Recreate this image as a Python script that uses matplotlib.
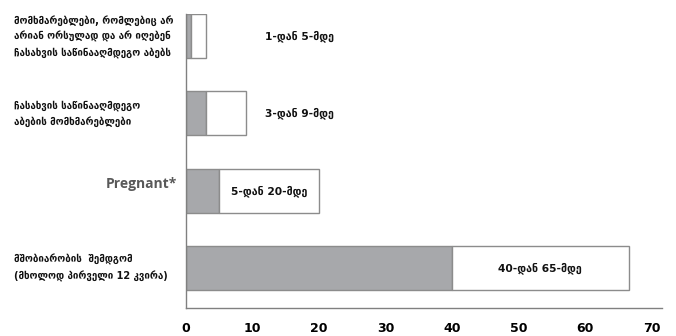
import matplotlib.pyplot as plt
import matplotlib.transforms as mtransforms

# categories, from top to bottom
categories = [
    "მომხმარებლები, რომლებიც არ\nარიან ორსულად და არ იღებენ\nჩასახვის საწინააღმდეგო აბებს",
    "ჩასახვის საწინააღმდეგო\nაბების მომხმარებლები",
    "Pregnant*",
    "მშობიარობის  შემდგომ\n(მხოლოდ პირველი 12 კვირა)",
]
low_values = [0.8, 3, 5, 40]
high_values = [3, 9, 20, 66.5]
range_labels = ["1-დან 5-მდე", "3-დან 9-მდე", "5-დან 20-მდე", "40-დან 65-მდე"]
x_ticks = [0, 10, 20, 30, 40, 50, 60, 70]

fig = plt.figure(figsize=(6.76, 3.36), dpi=100)
ax = fig.add_axes([0.275, 0.083, 0.704, 0.875])

n = len(categories)
ypos = [n - 1 - i for i in range(n)]
bar_h = 0.57
gray = "#a7a8ab"
edge = "#8c8c8c"

# gray part (lower bound) + white part (up to upper bound)
ax.barh(ypos, low_values, height=bar_h, color=gray, edgecolor=edge, linewidth=1)
ax.barh(ypos, [h - l for h, l in zip(high_values, low_values)], left=low_values,
        height=bar_h, color="white", edgecolor=edge, linewidth=1)

for y, lo, hi, lab in zip(ypos, low_values, high_values, range_labels):
    if hi - lo > 10:
        x = (lo + hi) / 2
    else:
        x = 17
    ax.text(x, y, lab, ha="center", va="center", fontsize=7.7,
            fontweight="bold", color="#111111")

# category labels to the left of the axis
trans = mtransforms.blended_transform_factory(fig.transFigure, ax.transData)
for y, cat in zip(ypos, categories):
    if cat.startswith("Pregnant"):
        ax.text(0.262, y + 0.08, cat, transform=trans, ha="right", va="center",
                fontsize=10, fontweight="bold", color="#595959", family="Open Sans")
    else:
        ax.text(0.021, y, cat, transform=trans, ha="left", va="center",
                fontsize=7, fontweight="bold", color="#111111", linespacing=1.6)

ax.set_xlim(0, 71.5)
ax.set_ylim(-0.52, n - 1 + bar_h / 2)
ax.set_xticks(x_ticks)
ax.set_xticklabels([str(t) for t in x_ticks], fontsize=9, fontweight="bold")
ax.set_yticks([])
ax.tick_params(axis="x", length=0, pad=10)

for s in ["top", "right"]:
    ax.spines[s].set_visible(False)
for s in ["left", "bottom"]:
    ax.spines[s].set_color("#808080")
    ax.spines[s].set_linewidth(1)

fig.savefig("out.png", dpi=100)
